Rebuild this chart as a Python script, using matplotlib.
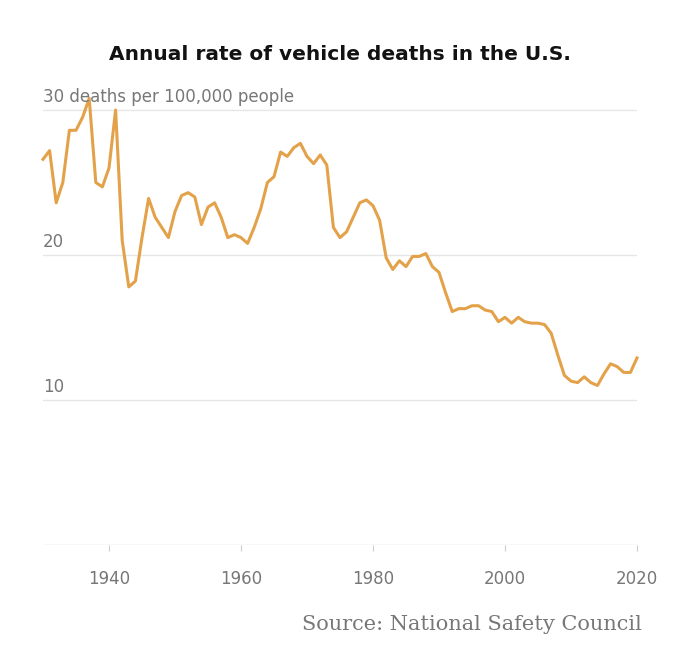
import matplotlib
matplotlib.use('Agg')
from matplotlib import pyplot as plt
import numpy as np

years = np.arange(1930, 2021)
rates = [26.6, 27.2, 23.6, 25.0, 28.6, 28.6, 29.5, 30.8, 25.0, 24.7,
         26.0, 30.0, 21.0, 17.8, 18.2, 21.2, 23.9, 22.6, 21.9, 21.2,
         23.0, 24.1, 24.3, 24.0, 22.1, 23.3, 23.6, 22.6, 21.2, 21.4,
         21.2, 20.8, 21.9, 23.2, 25.0, 25.4, 27.1, 26.8, 27.4, 27.7,
         26.8, 26.3, 26.9, 26.2, 21.9, 21.2, 21.6, 22.6, 23.6, 23.8,
         23.4, 22.4, 19.8, 19.0, 19.6, 19.2, 19.9, 19.9, 20.1, 19.2,
         18.8, 17.4, 16.1, 16.3, 16.3, 16.5, 16.5, 16.2, 16.1, 15.4,
         15.7, 15.3, 15.7, 15.4, 15.3, 15.3, 15.2, 14.6, 13.1, 11.7,
         11.3, 11.2, 11.6, 11.2, 11.0, 11.8, 12.5, 12.3, 11.9, 11.9,
         12.9]
y_ticks = [10, 20, 30]
y_labels = ['10', '20', '30 deaths per 100,000 people']
x_ticks = [1940, 1960, 1980, 2000, 2020]

fig = plt.figure(figsize=(6.8, 6.64), dpi=100)
ax = fig.add_axes([43 / 680, 1 - 545 / 664, 594 / 680, 449.5 / 664])
ax.set_xlim(1930, 2020)
ax.set_ylim(0, 31)

for yt in y_ticks:
    ax.axhline(yt, color='#e6e6e6', lw=1, zorder=0)
ax.axhline(0, color='#dddddd', lw=1, zorder=0)

ax.plot(years, rates, color='#e3a24a', lw=2.2, clip_on=False, solid_joinstyle='round')

for yt, lab in zip(y_ticks, y_labels):
    if yt == 30:
        ax.text(1930, yt + 0.3, lab, ha='left', va='bottom', color='#777777', fontsize=12)
    else:
        ax.text(1930, yt + 0.3, lab, ha='left', va='bottom', color='#777777', fontsize=12)

ax.set_xticks(x_ticks)
ax.set_xticklabels([str(x) for x in x_ticks], color='#777777', fontsize=12)
ax.tick_params(axis='x', length=4, color='#cccccc', pad=14)
ax.set_yticks([])
for s in ax.spines.values():
    s.set_visible(False)

fig.text(0.5, 1 - 55 / 664, 'Annual rate of vehicle deaths in the U.S.', ha='center', va='center',
         fontsize=14.5, fontweight='bold', color='#121212')
fig.text(642 / 680, 1 - 625 / 664, 'Source: National Safety Council', ha='right', va='center',
         fontsize=15, family='DejaVu Serif', color='#777777')

fig.savefig('out.png', dpi=100)
